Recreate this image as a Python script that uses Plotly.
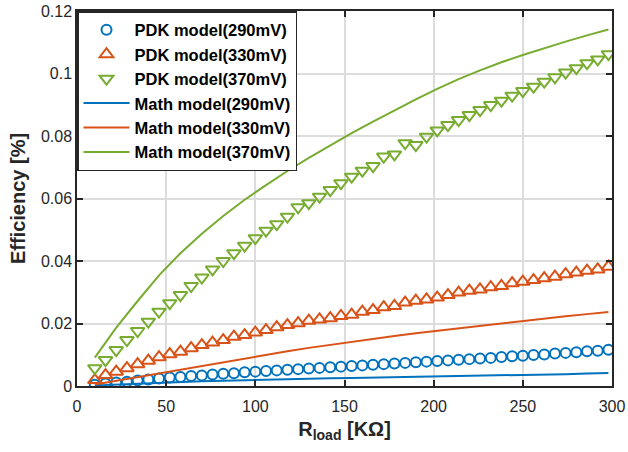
import plotly.graph_objects as go

# Load resistance [kOhm] for PDK (marker) data
r_pdk = [10, 16, 22, 28, 34, 40, 46, 52, 58, 64, 70, 76, 82, 88, 94, 100, 106,
         112, 118, 124, 130, 136, 142, 148, 154, 160, 166, 172, 178, 184, 190,
         196, 202, 208, 214, 220, 226, 232, 238, 244, 250, 256, 262, 268, 274,
         280, 286, 292, 298]

pdk_290 = [0.0004, 0.0008, 0.0011, 0.0014, 0.0018, 0.0021, 0.0024, 0.0027, 0.0029,
           0.0032, 0.0034, 0.0037, 0.0039, 0.0041, 0.0044, 0.0046, 0.0048, 0.0050,
           0.0052, 0.0054, 0.0056, 0.0058, 0.0060, 0.0062, 0.0064, 0.0066, 0.0068,
           0.0070, 0.0072, 0.0074, 0.0076, 0.0078, 0.0080, 0.0082, 0.0084, 0.0086,
           0.0088, 0.0090, 0.0093, 0.0095, 0.0097, 0.0099, 0.0101, 0.0104, 0.0106,
           0.0108, 0.0111, 0.0113, 0.0116]

pdk_330 = [0.0019, 0.0035, 0.0046, 0.0057, 0.0070, 0.0081, 0.0092, 0.0102, 0.0110,
           0.0121, 0.0131, 0.0139, 0.0147, 0.0158, 0.0163, 0.0171, 0.0179, 0.0188,
           0.0195, 0.0201, 0.0209, 0.0213, 0.0217, 0.0224, 0.0228, 0.0238, 0.0243,
           0.0252, 0.0256, 0.0267, 0.0273, 0.0277, 0.0283, 0.0291, 0.0299, 0.0305,
           0.0309, 0.0316, 0.0320, 0.0329, 0.0334, 0.0339, 0.0345, 0.0350, 0.0358,
           0.0363, 0.0369, 0.0373, 0.0382]

pdk_370 = [0.0057, 0.0083, 0.0115, 0.0147, 0.0176, 0.0206, 0.0238, 0.0265, 0.0291,
           0.0320, 0.0347, 0.0373, 0.0400, 0.0425, 0.0449, 0.0473, 0.0497, 0.0518,
           0.0542, 0.0572, 0.0585, 0.0606, 0.0627, 0.0649, 0.0670, 0.0689, 0.0704,
           0.0734, 0.0741, 0.0777, 0.0771, 0.0798, 0.0818, 0.0835, 0.0851, 0.0867,
           0.0883, 0.0899, 0.0913, 0.0929, 0.0944, 0.0958, 0.0974, 0.0988, 0.1003,
           0.1017, 0.1033, 0.1045, 0.1062]

# Load resistance [kOhm] for math model curves
r_math = [10, 22, 34, 46, 58, 70, 82, 94, 106, 118, 130, 142, 154, 166, 178, 190,
          202, 214, 226, 238, 250, 262, 274, 286, 298]

math_290 = [0.0002, 0.0005, 0.0008, 0.0011, 0.0013, 0.0015, 0.0017, 0.0019, 0.0020,
            0.0022, 0.0023, 0.0025, 0.0026, 0.0027, 0.0028, 0.0029, 0.0030, 0.0032,
            0.0033, 0.0034, 0.0035, 0.0037, 0.0038, 0.0040, 0.0042]

math_330 = [0.0005, 0.0017, 0.0029, 0.0041, 0.0053, 0.0065, 0.0077, 0.0089, 0.0100,
            0.0111, 0.0122, 0.0132, 0.0142, 0.0151, 0.0160, 0.0169, 0.0177, 0.0185,
            0.0193, 0.0201, 0.0208, 0.0216, 0.0223, 0.0230, 0.0237]

math_370 = [0.0091, 0.0187, 0.0272, 0.0354, 0.0425, 0.0487, 0.0544, 0.0596, 0.0643,
            0.0688, 0.0730, 0.0770, 0.0809, 0.0846, 0.0882, 0.0917, 0.0951, 0.0982,
            0.1010, 0.1036, 0.1059, 0.1081, 0.1102, 0.1122, 0.1141]

x_ticks = [0, 50, 100, 150, 200, 250, 300]
y_ticks = [0, 0.02, 0.04, 0.06, 0.08, 0.1, 0.12]
y_ticklabels = ["0", "0.02", "0.04", "0.06", "0.08", "0.1", "0.12"]

BLUE = "#0072BD"
ORANGE = "#D95319"
GREEN = "#77AC30"
FONT = "Liberation Sans, Arial, sans-serif"

fig = go.Figure()
fig.add_trace(go.Scatter(x=r_pdk, y=pdk_290, mode="markers", name="PDK model(290mV)",
                         marker=dict(symbol="circle-open", size=10, color=BLUE,
                                     line=dict(width=2, color=BLUE))))
fig.add_trace(go.Scatter(x=r_pdk, y=pdk_330, mode="markers", name="PDK model(330mV)",
                         marker=dict(symbol="triangle-up-open", size=12, color=ORANGE,
                                     line=dict(width=2, color=ORANGE))))
fig.add_trace(go.Scatter(x=r_pdk, y=pdk_370, mode="markers", name="PDK model(370mV)",
                         marker=dict(symbol="triangle-down-open", size=12, color=GREEN,
                                     line=dict(width=2, color=GREEN))))
fig.add_trace(go.Scatter(x=r_math, y=math_290, mode="lines", name="Math model(290mV)",
                         line=dict(color=BLUE, width=2)))
fig.add_trace(go.Scatter(x=r_math, y=math_330, mode="lines", name="Math model(330mV)",
                         line=dict(color=ORANGE, width=2)))
fig.add_trace(go.Scatter(x=r_math, y=math_370, mode="lines", name="Math model(370mV)",
                         line=dict(color=GREEN, width=2)))

axis_common = dict(
    automargin=False,
    showline=True, linecolor="#262626", linewidth=1.5, mirror="allticks",
    ticks="inside", ticklen=6, tickwidth=1.5, tickcolor="#262626",
    showgrid=True, gridcolor="#dcdcdc", gridwidth=1.5, zeroline=False,
    tickfont=dict(family=FONT, size=16, color="#262626"),
)

fig.update_xaxes(range=[0, 300], tickvals=x_ticks, ticklabelstandoff=5, **axis_common,
                 title=dict(text="<b>R<sub>load</sub> [KΩ]</b>", standoff=8,
                            font=dict(family=FONT, size=20, color="#262626")))
fig.update_yaxes(range=[0, 0.12], tickvals=y_ticks, ticktext=y_ticklabels, **axis_common,
                 title=dict(text="<b>Efficiency [%]</b>", standoff=10,
                            font=dict(family=FONT, size=20, color="#262626")))

fig.update_layout(
    width=628, height=452,
    margin=dict(l=77, r=16, t=11, b=66),
    paper_bgcolor="white", plot_bgcolor="white",
    showlegend=True,
    legend=dict(x=0, y=1, xanchor="left", yanchor="top",
                bgcolor="white", bordercolor="#262626", borderwidth=1.5,
                font=dict(family=FONT, size=16.5, color="black", weight="bold"),
                itemwidth=46, tracegroupgap=0),
)

fig.write_html("out.html")
